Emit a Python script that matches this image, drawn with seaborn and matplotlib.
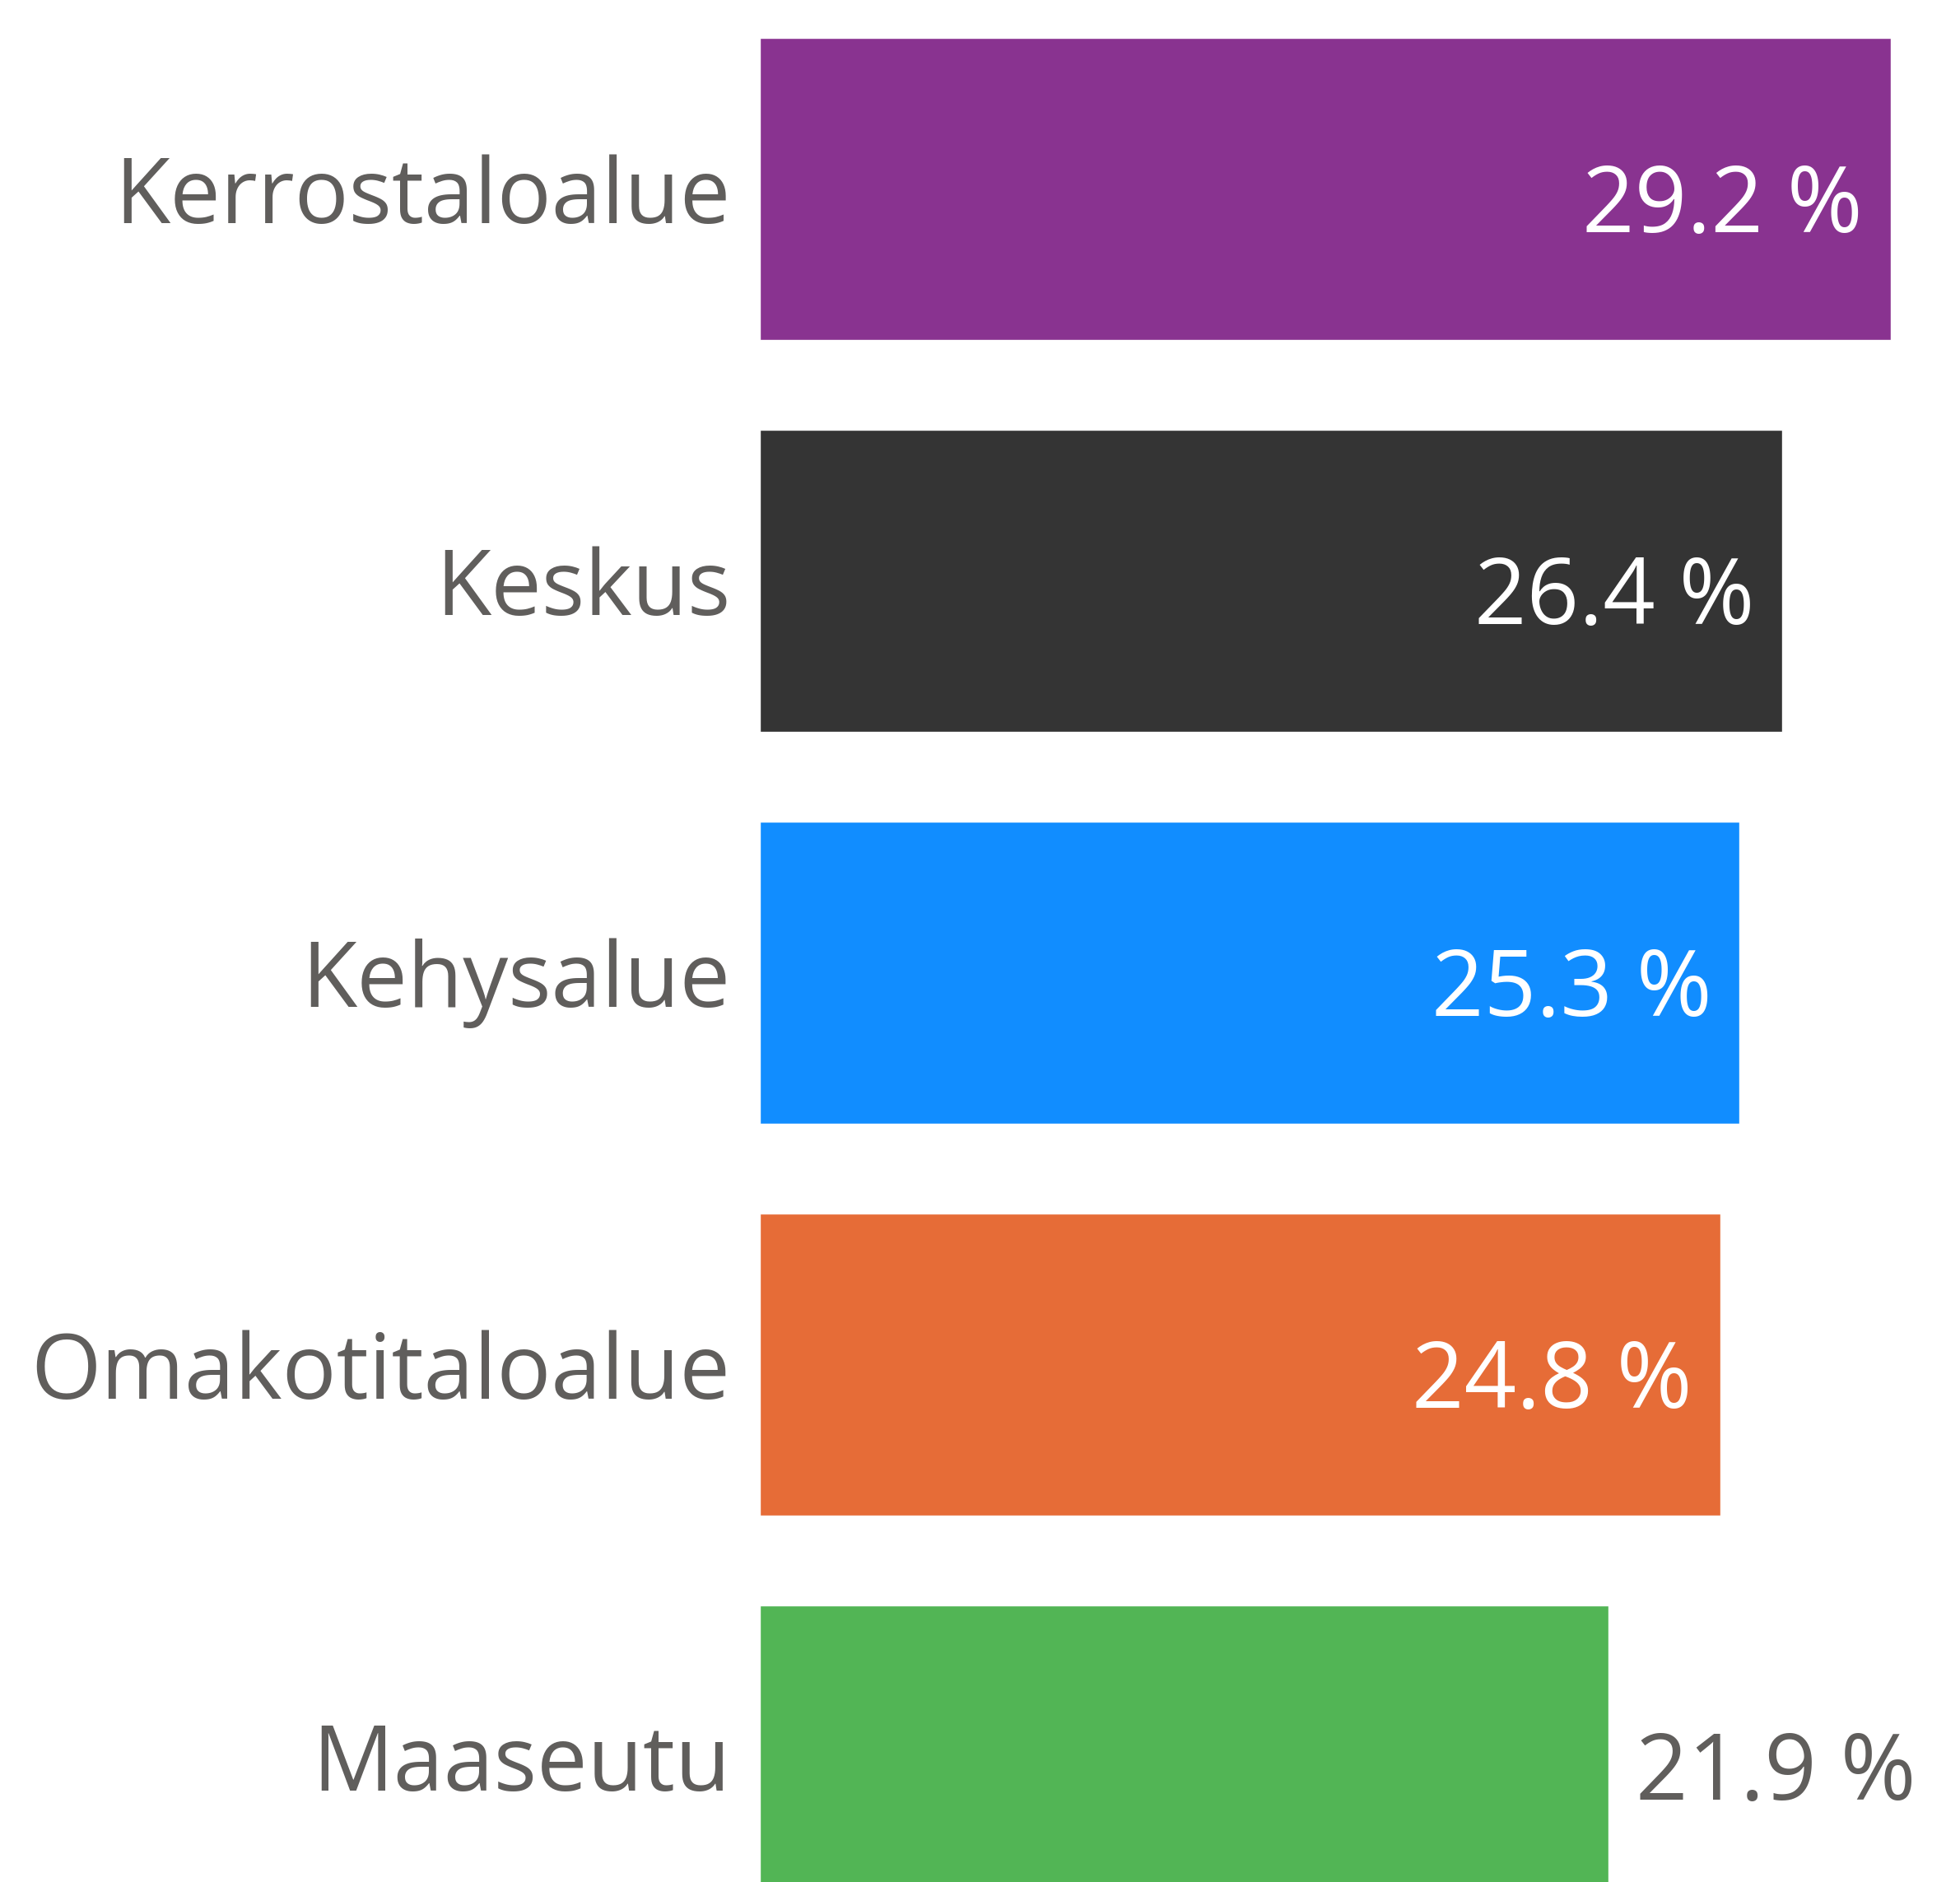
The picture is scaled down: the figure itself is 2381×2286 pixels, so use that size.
import pandas as pd
import matplotlib
matplotlib.use('Agg')
import matplotlib.pyplot as plt
import seaborn as sns

# data
categories = ['Kerrostaloalue', 'Keskus', 'Kehysalue', 'Omakotitaloalue', 'Maaseutu']
values = [29.2, 26.4, 25.3, 24.8, 21.9]
bar_colors = ['#893390', '#343434', '#118DFF', '#E66C37', '#52B555']
value_labels = ['29.2 %', '26.4 %', '25.3 %', '24.8 %', '21.9 %']
inside = [True, True, True, True, False]

sns.set_theme(style='white')
plt.rcParams['font.family'] = ['Open Sans', 'DejaVu Sans']

TEXT_GRAY = '#605E5C'
W, H = 2381, 2286
STEP = 476  # px per category

df = pd.DataFrame({'alue': categories, 'osuus': values})

fig = plt.figure(figsize=(W / 100, H / 100), dpi=100)
x0 = 923
px_per_unit = (2297 - x0) / 29.2
ax = fig.add_axes([x0 / W, 0, 1 - x0 / W, 1])

sns.barplot(data=df, x='osuus', y='alue', hue='alue', palette=bar_colors,
            order=categories, hue_order=categories, width=0.773,
            legend=False, ax=ax, saturation=1)

ax.set_xlim(0, (W - x0) / px_per_unit)
top = -229.5 / STEP
ax.set_ylim(top + H / STEP, top)

sns.despine(ax=ax, left=True, bottom=True)
ax.set_xticks([])
ax.set_xlabel('')
ax.set_ylabel('')
ax.tick_params(axis='y', length=0, pad=25.5, labelsize=79, labelcolor=TEXT_GRAY)

pad = 34 / px_per_unit
base_off = 53 / STEP  # baseline below bar centre
for i, (v, lab, ins) in enumerate(zip(values, value_labels, inside)):
    if ins:
        ax.text(v - pad, i + base_off, lab, ha='right', va='baseline',
                color='white', fontsize=80)
    else:
        ax.text(v + pad, i + base_off, lab, ha='left', va='baseline',
                color=TEXT_GRAY, fontsize=80)

fig.savefig('out.png', dpi=100, facecolor='white')
